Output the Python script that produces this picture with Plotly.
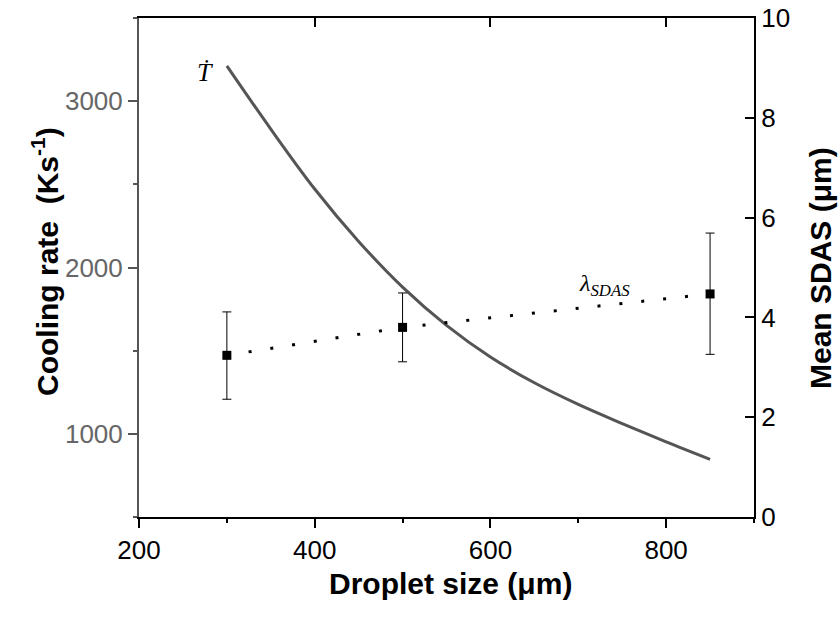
import plotly.graph_objects as go

# Cooling rate curve (left axis)
size_curve = [300, 350, 400, 450, 500, 550, 600, 650, 700, 750, 800, 850]
cooling_rate = [3212, 2832, 2472, 2157, 1882, 1652, 1462, 1307, 1177, 1062, 952, 847]

# Mean SDAS points (right axis)
size_pts = [300, 500, 850]
sdas_mean = [3.24, 3.80, 4.47]
sdas_err_plus = [0.87, 0.69, 1.22]
sdas_err_minus = [0.88, 0.69, 1.21]

x_ticks = [200, 400, 600, 800]
left_ticks = [1000, 2000, 3000]
right_ticks = [0, 2, 4, 6, 8, 10]

GRAY = "#555555"
L, R, T, B = 139, 86, 18, 102
W, H = 840, 619
pw, ph = W - L - R, H - T - B

fig = go.Figure()
fig.add_trace(go.Scatter(x=size_curve, y=cooling_rate, mode="lines",
                         line=dict(color=GRAY, width=3, shape="spline", smoothing=1.0),
                         xaxis="x", yaxis="y", showlegend=False, hoverinfo="skip"))
fig.add_trace(go.Scatter(x=size_pts, y=sdas_mean, mode="lines+markers",
                         line=dict(color="black", width=3, dash="3px,19px"),
                         marker=dict(symbol="square", size=9, color="black"),
                         error_y=dict(type="data", symmetric=False, array=sdas_err_plus,
                                      arrayminus=sdas_err_minus, color="black",
                                      thickness=1, width=4.5),
                         xaxis="x", yaxis="y2", showlegend=False))
# invisible trace for top axis
fig.add_trace(go.Scatter(x=[200], y=[500], mode="markers", marker=dict(opacity=0),
                         xaxis="x2", yaxis="y", showlegend=False, hoverinfo="skip"))

tickfont = dict(family="Liberation Sans, Arial", size=26, color="black")
fig.update_layout(
    template="none",
    width=W, height=H, margin=dict(l=L, r=R, t=T, b=B, autoexpand=False),
    paper_bgcolor="white", plot_bgcolor="white",
    xaxis=dict(range=[200, 900], tickvals=x_ticks, ticks="outside", ticklen=9,
               tickwidth=1.5, tickcolor="black", showline=True, linecolor="black",
               linewidth=2, showgrid=False, zeroline=False, tickfont=tickfont,
               automargin=False,
               minor=dict(dtick=100, ticks="outside", ticklen=4, tickcolor="black", tickwidth=1.5)),
    xaxis2=dict(range=[200, 900], overlaying="x", side="top", tickvals=x_ticks,
                ticks="inside", ticklen=9, tickwidth=1.5, tickcolor="black",
                showline=True, linecolor="black", linewidth=2, showticklabels=False,
                showgrid=False, zeroline=False, automargin=False),
    yaxis=dict(range=[500, 3500], tickvals=left_ticks, ticks="outside", ticklen=9,
               tickwidth=1.5, tickcolor=GRAY, showline=True, linecolor=GRAY, linewidth=2,
               showgrid=False, zeroline=False, automargin=False,
               tickfont=dict(family="Liberation Sans, Arial", size=26, color="#666666"),
               minor=dict(dtick=500, ticks="outside", ticklen=4, tickcolor=GRAY, tickwidth=1.5)),
    yaxis2=dict(range=[0, 10], overlaying="y", side="right", tickvals=right_ticks,
                ticks="inside", ticklen=9, tickwidth=1.5, tickcolor="black",
                showline=True, linecolor="black", linewidth=2, showgrid=False,
                zeroline=False, tickfont=tickfont, automargin=False),
)

def px2paper_x(px):
    return (px - L) / pw

def px2paper_y(py):
    return (H - B - py) / ph

titlefont = dict(family="Liberation Sans, Arial", size=30, color="black")
fig.add_annotation(text="<b>Droplet size (μm)</b>", xref="paper", yref="paper",
                   x=px2paper_x(450), y=px2paper_y(583), showarrow=False, font=titlefont,
                   xanchor="center", yanchor="middle")
fig.add_annotation(text="<b>Cooling rate  (Ks<sup>-1</sup>)</b>", xref="paper", yref="paper",
                   x=px2paper_x(45), y=px2paper_y(262), showarrow=False, font=titlefont,
                   textangle=-90, xanchor="center", yanchor="middle")
fig.add_annotation(text="<b>Mean SDAS (μm)</b>", xref="paper", yref="paper",
                   x=px2paper_x(820), y=px2paper_y(268), showarrow=False, font=titlefont,
                   textangle=-90, xanchor="center", yanchor="middle")

serif = dict(family="Liberation Serif, Times New Roman", size=26, color="black")
fig.add_annotation(text="<i>Ṫ</i>", x=275, y=3170, xref="x", yref="y",
                   showarrow=False, font=serif)
fig.add_annotation(text="<i>λ<sub>SDAS</sub></i>", x=730, y=4.64, xref="x", yref="y2",
                   showarrow=False, font=dict(family="Liberation Serif, Times New Roman",
                                               size=24, color="black"))

fig.write_html("out.html", config={"displayModeBar": False},
               post_script="document.body.style.margin='0';document.body.style.overflow='hidden';")
